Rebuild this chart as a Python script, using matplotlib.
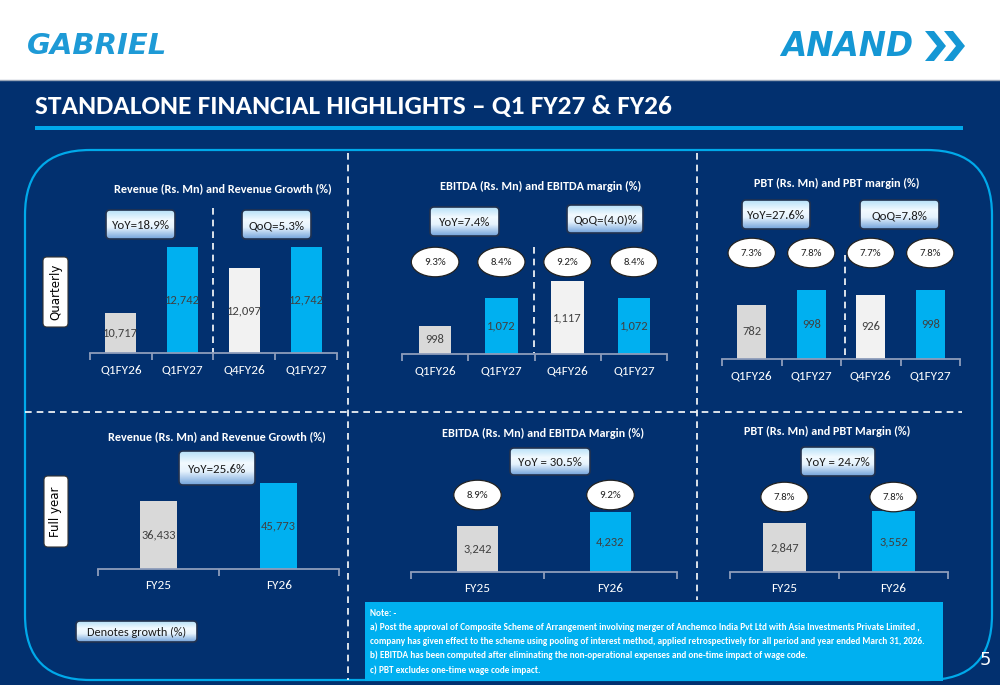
import matplotlib
matplotlib.use('Agg')
import matplotlib.pyplot as plt
import numpy as np
from matplotlib import font_manager
from matplotlib.patches import FancyBboxPatch, Polygon, Rectangle
from matplotlib.transforms import blended_transform_factory

# ---- data ----
q_labels = ['Q1FY26', 'Q1FY27', 'Q4FY26', 'Q1FY27']
q_revenue = [10717, 12742, 12097, 12742]
q_ebitda = [998, 1072, 1117, 1072]
q_ebitda_margin = ['9.3%', '8.4%', '9.2%', '8.4%']
q_pbt = [782, 998, 926, 998]
q_pbt_margin = ['7.3%', '7.8%', '7.7%', '7.8%']
q_rev_growth = ['YoY=18.9%', 'QoQ=5.3%']
q_ebitda_growth = ['YoY=7.4%', 'QoQ=(4.0)%']
q_pbt_growth = ['YoY=27.6%', 'QoQ=7.8%']

fy_labels = ['FY25', 'FY26']
fy_revenue = [36433, 45773]
fy_ebitda = [3242, 4232]
fy_ebitda_margin = ['8.9%', '9.2%']
fy_pbt = [2847, 3552]
fy_pbt_margin = ['7.8%', '7.8%']
fy_rev_growth = ['YoY=25.6%']
fy_ebitda_growth = ['YoY = 30.5%']
fy_pbt_growth = ['YoY = 24.7%']

notes = [
    'Note: -',
    'a) Post the approval of Composite Scheme of Arrangement involving merger of Anchemco India Pvt Ltd with Asia Investments Private Limited ,',
    'company has given effect to the scheme using pooling of interest method, applied retrospectively for all period and year ended March 31, 2026.',
    'b) EBITDA has been computed after eliminating the non-operational expenses and one-time impact of wage code.',
    'c) PBT excludes one-time wage code impact.',
]

q_colors = ['#d9d9d9', '#00b0f0', '#f2f2f2', '#00b0f0']
fy_colors = ['#d9d9d9', '#00b0f0']
NAVY = '#02306f'
CYAN = '#00a9ea'

installed = {f.name for f in font_manager.fontManager.ttflist}
NARROW = next((n for n in ['Carlito', 'PT Sans Narrow', 'Roboto Condensed', 'Archivo Narrow',
                           'Liberation Sans Narrow', 'Lato'] if n in installed), 'DejaVu Sans')

W, H = 1000, 685
fig = plt.figure(figsize=(10, 6.85), dpi=100)
bg = fig.add_axes([0, 0, 1, 1])
bg.set_xlim(0, W)
bg.set_ylim(H, 0)
bg.set_autoscale_on(False)
bg.axis('off')

# header + background
bg.add_patch(Rectangle((0, 0), W, 80, fc='white', ec='none'))
bg.add_patch(Rectangle((0, 80), W, H - 80, fc=NAVY, ec='none'))
bg.plot([0, W], [80, 80], color='#9aa6b8', lw=1)

# faint candlestick decoration
candles = [(607, 141, 150), (632, 135, 150), (646, 116, 150), (658, 125, 150), (710, 138, 150),
           (723, 93, 146), (736, 115, 150), (749, 138, 150), (800, 93, 150), (813, 128, 150),
           (826, 135, 150), (839, 135, 150), (865, 146, 150), (877, 124, 150), (890, 106, 150),
           (903, 80, 126), (916, 80, 107), (942, 80, 104)]
for cx, t, b in candles:
    bg.add_patch(Rectangle((cx - 4, t), 8, b - t, fc='#1d5c9e', ec='none', alpha=0.7, zorder=0.5))
    bg.plot([cx, cx], [t - 5, b + 4], color='#1d5c9e', lw=0.8, alpha=0.7, zorder=0.5)
for cx, t in [(8, 639), (22, 592), (35, 650), (49, 660), (62, 670)]:
    bg.add_patch(Rectangle((cx - 6, t), 12, H - t, fc='#0b4c9c', ec='none', zorder=0.5))

# logos
bg.text(27, 46, 'GABRIEL', fontsize=21, fontweight='bold', fontstyle='italic', color='#1e9ad6',
        va='center', ha='left', family='DejaVu Sans')
bg.text(781, 46, 'ANAND', fontsize=23.5, fontweight='bold', fontstyle='italic', color='#1597d4',
        va='center', ha='left', family='DejaVu Sans')
for x in (925, 944):
    bg.add_patch(Polygon([(x, 31), (x + 9, 31), (x + 21, 46), (x + 9, 61), (x, 61), (x + 12, 46)],
                         closed=True, fc='#1597d4', ec='none'))

# title
bg.text(35, 106, 'STANDALONE FINANCIAL HIGHLIGHTS \u2013 Q1 FY27 & FY26', fontsize=19.7, fontweight='bold',
        color='white', va='center', ha='left', family=NARROW)
bg.add_patch(Rectangle((35, 126), 928, 4, fc=CYAN, ec='none', zorder=1))

# big rounded panel
bg.add_patch(FancyBboxPatch((25, 150), 967, 530, boxstyle='round,pad=0,rounding_size=65',
                            fc='none', ec=CYAN, lw=1.6, zorder=1))

# dashed separators
dash = dict(color='white', lw=1.2, ls=(0, (4, 3)), zorder=2)
bg.plot([348, 348], [153, 680], **dash)
bg.plot([697, 697], [153, 600], **dash)
bg.plot([25, 962], [412, 412], **dash)
for x, y0, y1 in [(213, 208, 353), (534, 247, 353), (845, 255, 360)]:
    bg.plot([x, x], [y0, y1], **dash)


def grad_box(x0, y0, x1, y1, text, fs=9.3):
    patch = FancyBboxPatch((x0, y0), x1 - x0, y1 - y0, boxstyle='round,pad=0,rounding_size=4',
                           fc='none', ec='#22324f', lw=1.2, zorder=4)
    bg.add_patch(patch)
    stops = np.array([[0.72, 0.88, 0.97], [0.95, 0.98, 1.0], [0.90, 0.95, 0.99], [0.45, 0.64, 0.86]])
    pos = np.array([0, 0.35, 0.6, 1.0])
    t = np.linspace(0, 1, 64)
    rgb = np.stack([np.interp(t, pos, stops[:, k]) for k in range(3)], axis=1)
    im = bg.imshow(rgb[:, None, :], extent=[x0, x1, y1, y0], origin='upper', aspect='auto',
                   zorder=3, interpolation='bilinear')
    im.set_clip_path(patch)
    bg.text((x0 + x1) / 2, (y0 + y1) / 2 + 1, text, fontsize=fs, color='#1a1a1a',
            ha='center', va='center', family=NARROW, zorder=5)


def side_label(x0, y0, x1, y1, text):
    bg.add_patch(FancyBboxPatch((x0, y0), x1 - x0, y1 - y0, boxstyle='round,pad=0,rounding_size=4',
                                fc='white', ec='#333333', lw=0.8, zorder=3))
    bg.text((x0 + x1) / 2, (y0 + y1) / 2, text, rotation=90, fontsize=8.5, color='black',
            ha='center', va='center', zorder=4, family='DejaVu Sans')


def bar_panel(x0, x1, base, lo, per_px, width, cats, vals, colors, title, tx, ty,
              margins=None, my=None):
    h = 150
    ax = fig.add_axes([x0 / W, 1 - base / H, (x1 - x0) / W, h / H])
    ax.patch.set_alpha(0)
    n = len(cats)
    x = np.arange(n)
    ax.bar(x, [v - lo for v in vals], bottom=lo, width=width, color=colors, zorder=2)
    ax.set_xlim(-0.5, n - 0.5)
    ax.set_ylim(lo, lo + h * per_px)
    for s in ('top', 'left', 'right'):
        ax.spines[s].set_visible(False)
    ax.spines['bottom'].set_color('#8e9dbb')
    ax.spines['bottom'].set_linewidth(1.3)
    ax.set_yticks([])
    ax.set_xticks(x)
    ax.set_xticklabels(cats, fontsize=9.5, color='white', family=NARROW)
    ax.tick_params(axis='x', which='major', length=0, pad=8)
    ax.set_xticks(np.arange(-0.5, n), minor=True)
    ax.tick_params(axis='x', which='minor', length=5, color='#8e9dbb', width=1.3, direction='out')
    for i, v in enumerate(vals):
        ax.text(i, (lo + v) / 2, f'{v:,}', ha='center', va='center', fontsize=9,
                color='#404040', family=NARROW, zorder=3)
    if margins is not None:
        tr = blended_transform_factory(ax.transData, bg.transData)
        for i, m in enumerate(margins):
            ax.text(i, my, m, transform=tr, ha='center', va='center', fontsize=7.8, color='#222222',
                    family=NARROW, zorder=5,
                    bbox=dict(boxstyle='ellipse,pad=0.55', fc='white', ec='#222222', lw=0.9))
    bg.text(tx, ty, title, fontsize=8.7, fontweight='bold', color='white', ha='center', va='center',
            family=NARROW)
    return ax


# quarterly row
bar_panel(90, 337, 353, 9490, 30.7, 0.5, q_labels, q_revenue, q_colors,
          'Revenue (Rs. Mn) and Revenue Growth (%)', 223, 189)
bar_panel(402, 667, 354, 924, 2.64, 0.49, q_labels, q_ebitda, q_colors,
          'EBITDA (Rs. Mn) and EBITDA margin (%)', 541, 186, q_ebitda_margin, 262)
bar_panel(722, 960, 359, 0, 14.4, 0.49, q_labels, q_pbt, q_colors,
          'PBT (Rs. Mn) and PBT margin (%)', 837, 183, q_pbt_margin, 253)

# full-year row
bar_panel(98, 339, 569, 0, 534, 0.31, fy_labels, fy_revenue, fy_colors,
          'Revenue (Rs. Mn) and Revenue Growth (%)', 217, 437)
bar_panel(411, 677, 572, 0, 70.5, 0.31, fy_labels, fy_ebitda, fy_colors,
          'EBITDA (Rs. Mn) and EBITDA Margin (%)', 543, 433, fy_ebitda_margin, 495)
bar_panel(730, 948, 572, 0, 58.1, 0.40, fy_labels, fy_pbt, fy_colors,
          'PBT (Rs. Mn) and PBT Margin (%)', 827, 431, fy_pbt_margin, 497)

# growth boxes
grad_box(106, 210, 175, 239, q_rev_growth[0])
grad_box(242, 210, 311, 239, q_rev_growth[1])
grad_box(430, 207, 499, 236, q_ebitda_growth[0])
grad_box(567, 205, 643, 233, q_ebitda_growth[1])
grad_box(742, 200, 810, 229, q_pbt_growth[0])
grad_box(860, 200, 939, 229, q_pbt_growth[1])
grad_box(179, 451, 255, 485, fy_rev_growth[0])
grad_box(510, 448, 590, 475, fy_ebitda_growth[0])
grad_box(801, 447, 875, 476, fy_pbt_growth[0])
grad_box(76, 621, 197, 642, 'Denotes growth (%)', fs=8.8)

side_label(43, 257, 68, 327, 'Quarterly')
side_label(44, 476, 68, 547, 'Full year')

# notes box
bg.add_patch(Rectangle((365, 602), 578, 79, fc='#00b0f0', ec='none', zorder=3))
for k, line in enumerate(notes):
    bg.text(370, 613 + k * 14.2, line, fontsize=6.65, fontweight='bold', color='white',
            ha='left', va='center', family=NARROW, zorder=4)

bg.text(985, 660, '5', fontsize=13, color='white', ha='center', va='center', family='DejaVu Sans')

fig.savefig('out.png', dpi=100)
